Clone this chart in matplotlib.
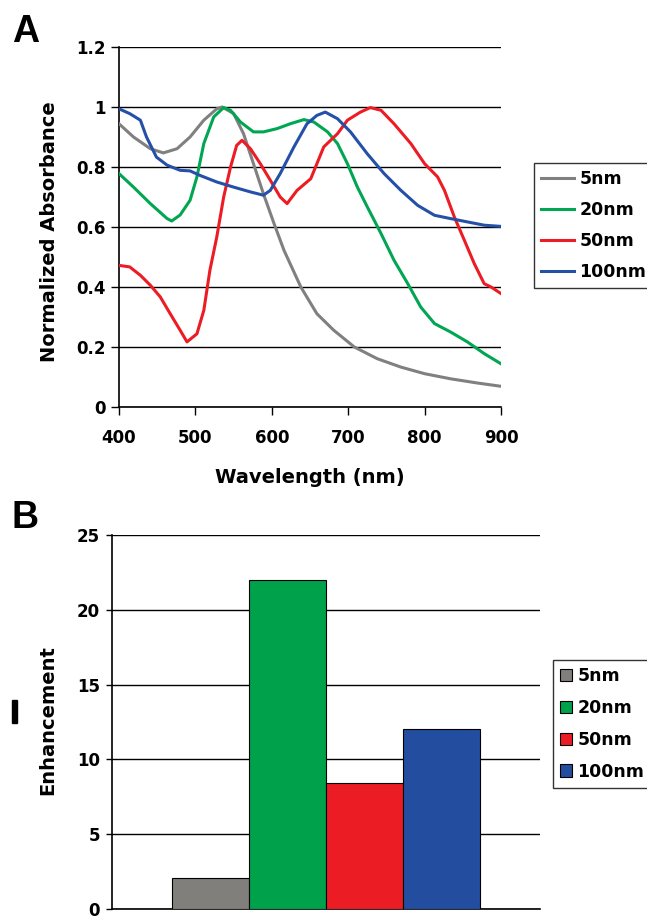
import matplotlib
matplotlib.use("Agg")
import matplotlib.pyplot as plt
from matplotlib.patches import Rectangle

plt.rcParams['font.family'] = ['DejaVu Sans']
plt.rcParams['font.weight'] = 'bold'
ARIAL = ['Liberation Sans', 'DejaVu Sans']

# Panel A: normalized absorbance spectra
wl_5 = [400, 419, 441, 458, 476, 493, 511, 528, 535, 550, 563, 576, 589, 603, 616,
        638, 659, 681, 708, 738, 769, 800, 834, 869, 900]
abs_5 = [0.944, 0.90, 0.861, 0.847, 0.861, 0.90, 0.956, 0.994, 1.0, 0.978, 0.911, 0.811,
         0.711, 0.611, 0.522, 0.40, 0.311, 0.256, 0.20, 0.161, 0.133, 0.111, 0.094, 0.08, 0.069]

wl_20 = [400, 419, 441, 463, 469, 480, 493, 502, 511, 524, 537, 546, 559, 576, 589, 607,
         624, 642, 655, 673, 686, 699, 712, 725, 743, 760, 778, 795, 813, 834, 856, 878, 900]
abs_20 = [0.778, 0.733, 0.678, 0.628, 0.62, 0.64, 0.689, 0.767, 0.878, 0.967, 0.998, 0.989,
          0.95, 0.917, 0.917, 0.928, 0.944, 0.958, 0.95, 0.917, 0.878, 0.811, 0.733, 0.667,
          0.578, 0.489, 0.411, 0.333, 0.278, 0.25, 0.217, 0.178, 0.144]

wl_50 = [400, 414, 428, 441, 454, 467, 480, 489, 502, 511, 519, 528, 537, 546, 554, 561,
         572, 585, 598, 611, 620, 633, 651, 668, 686, 699, 716, 729, 743, 760, 782, 800,
         817, 826, 839, 852, 865, 878, 887, 900]
abs_50 = [0.472, 0.467, 0.439, 0.406, 0.367, 0.311, 0.256, 0.217, 0.244, 0.322, 0.456,
          0.567, 0.70, 0.80, 0.872, 0.889, 0.861, 0.811, 0.756, 0.70, 0.678, 0.722, 0.761,
          0.867, 0.911, 0.956, 0.983, 0.998, 0.989, 0.944, 0.878, 0.811, 0.767, 0.722,
          0.633, 0.556, 0.478, 0.411, 0.40, 0.378]

wl_100 = [400, 414, 428, 436, 449, 463, 480, 493, 506, 528, 550, 572, 589, 598, 611, 629,
          646, 659, 670, 686, 703, 725, 747, 769, 791, 813, 834, 856, 878, 900]
abs_100 = [0.994, 0.978, 0.956, 0.90, 0.833, 0.806, 0.789, 0.787, 0.772, 0.75, 0.733,
           0.717, 0.706, 0.722, 0.778, 0.867, 0.944, 0.972, 0.983, 0.961, 0.917, 0.844,
           0.778, 0.722, 0.672, 0.639, 0.628, 0.617, 0.606, 0.602]

sizes = ["5nm", "20nm", "50nm", "100nm"]
line_colors = ["#808080", "#00a651", "#ed1c24", "#2550a8"]

# Panel B: enhancement per particle size
enhancement = [2.05, 22.0, 8.45, 12.05]
bar_colors = ["#807f7b", "#00a14b", "#ec1c24", "#234ea0"]

W, H = 647, 917
fig = plt.figure(figsize=(W / 100, H / 100), dpi=100)
leg_font = {'family': 'DejaVu Sans', 'weight': 'bold', 'size': 12.5}

# ---- Panel A ----
axA = fig.add_axes([119 / W, 1 - 407 / H, (501 - 119) / W, (407 - 47) / H])
spectra = [(wl_5, abs_5), (wl_20, abs_20), (wl_50, abs_50), (wl_100, abs_100)]
for (x, y), c, lab in zip(spectra, line_colors, sizes):
    axA.plot(x, y, color=c, lw=2.2, label=lab, zorder=3)
axA.set_xlim(400, 900)
axA.set_ylim(0, 1.2)
axA.set_xticks([400, 500, 600, 700, 800, 900])
axA.set_yticks([0, 0.2, 0.4, 0.6, 0.8, 1.0, 1.2])
axA.set_yticklabels(["0", "0.2", "0.4", "0.6", "0.8", "1", "1.2"])
axA.grid(axis='y', color='black', lw=1)
axA.set_axisbelow(True)
for s in ['top', 'right']:
    axA.spines[s].set_visible(False)
for s in ['left', 'bottom']:
    axA.spines[s].set_linewidth(1.2)
axA.tick_params(direction='out', length=5.5, width=1, labelsize=12)
axA.tick_params(axis='y', pad=4)
axA.tick_params(axis='x', pad=10)
axA.set_xlabel("Wavelength (nm)", fontsize=14, fontweight='bold')
axA.xaxis.set_label_coords(0.5, -(468 - 407) / 360)
axA.set_ylabel("Normalized Absorbance", fontsize=14, fontweight='bold')
axA.yaxis.set_label_coords((59 - 119) / 382, 0.486)
legA = fig.legend(loc='upper left', bbox_to_anchor=(534 / W, 1 - 163 / H),
                  prop=leg_font, frameon=True, fancybox=False, edgecolor='black',
                  handlelength=1.9, handletextpad=0.3, labelspacing=0.75,
                  borderpad=0.4, borderaxespad=0)
legA.get_frame().set_linewidth(1)
fig.text(12 / W, 1 - 42 / H, "A", fontsize=27, fontweight='bold', family=ARIAL)

# ---- Panel B ----
axB = fig.add_axes([112 / W, 1 - 909 / H, (540 - 112) / W, (909 - 535) / H])
bw = 0.18
for i, (v, c, lab) in enumerate(zip(enhancement, bar_colors, sizes)):
    axB.bar((i - 1.5) * bw, v, width=bw, color=c, edgecolor='black', lw=0.8,
            label=lab, zorder=3)
axB.set_xlim(-0.5, 0.5)
axB.set_ylim(0, 25)
axB.set_yticks([0, 5, 10, 15, 20, 25])
axB.set_xticks([])
axB.grid(axis='y', color='black', lw=1)
axB.set_axisbelow(True)
for s in ['top', 'right']:
    axB.spines[s].set_visible(False)
for s in ['left', 'bottom']:
    axB.spines[s].set_linewidth(1.2)
axB.tick_params(axis='y', direction='out', length=4.5, width=1, labelsize=12, pad=4)
axB.set_ylabel("Enhancement", fontsize=14, fontweight='bold')
axB.yaxis.set_label_coords((57 - 112) / 428, 0.505)
hB, lB = axB.get_legend_handles_labels()
legB = fig.legend(hB, lB, loc='upper left', bbox_to_anchor=(553 / W, 1 - 660 / H),
                  prop=leg_font, frameon=True, fancybox=False, edgecolor='black',
                  handlelength=0.7, handleheight=0.7, handletextpad=0.3,
                  labelspacing=0.8, borderpad=0.4, borderaxespad=0)
legB.get_frame().set_linewidth(1)
fig.text(12 / W, 1 - 528 / H, "B", fontsize=27, fontweight='bold', family=ARIAL)
fig.patches.append(Rectangle((12 / W, 1 - 723 / H), 5 / W, 23 / H,
                             transform=fig.transFigure, color='black'))

fig.savefig("out.png", dpi=100)
